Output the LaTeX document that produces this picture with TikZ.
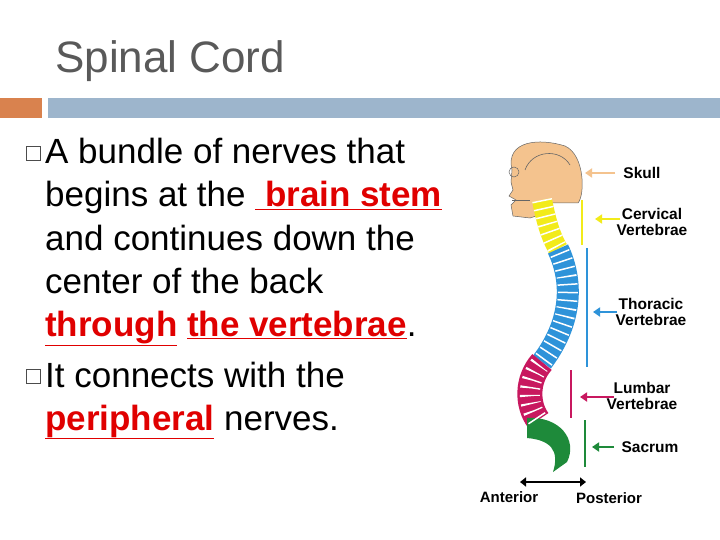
\documentclass[tikz,border=0pt]{standalone}
\usepackage{fontspec}
\setmainfont{Liberation Sans}
\usetikzlibrary{arrows.meta}
\definecolor{bartop}{HTML}{9DB5CC}
\definecolor{orng}{HTML}{D9824E}
\definecolor{redt}{HTML}{E00000}
\definecolor{skull}{HTML}{F4C38E}
\definecolor{yel}{HTML}{F2EB1A}
\definecolor{blu}{HTML}{2E93D9}
\definecolor{mag}{HTML}{C8185F}
\definecolor{grn}{HTML}{1E8A3A}
\newcommand{\rtx}[1]{\textcolor{redt}{\bfseries\underline{#1}}}
\begin{document}
\begin{tikzpicture}[x=1pt,y=-1pt,
  body/.style={anchor=base west,font=\fontsize{35}{40}\selectfont,inner sep=0pt},
  lab/.style={font=\fontsize{15.5}{16}\selectfont\bfseries,align=center,inner sep=0pt},
  bullet/.style={draw=black!70,line width=0.8pt,minimum size=14pt,inner sep=0pt},
  arr/.style={-{Triangle[length=7pt,width=9pt]},line width=2.5pt}]
\useasboundingbox (0,0) rectangle (720,540);
\fill[white] (0,0) rectangle (720,540);
\node[font=\fontsize{44}{48}\selectfont,text=black!65,anchor=base west,inner sep=0pt] (title) at (55,73) {Spinal Cord};
\fill[orng] (0,98) rectangle (42,118);
\fill[bartop] (48,98) rectangle (720,118);
\node[bullet] (b1) at (33,153) {};
\node[bullet] (b2) at (33,376) {};
\node[body] (l1) at (45,164) {A bundle of nerves that};
\node[body] (l2) at (45,207) {begins at the \rtx{ brain stem}};
\node[body] (l3) at (45,250) {and continues down the};
\node[body] (l4) at (45,293) {center of the back};
\node[body] (l5) at (45,336) {\rtx{through} \rtx{the vertebrae}.};
\node[body] (l6) at (45,387) {It connects with the};
\node[body] (l7) at (45,430) {\rtx{peripheral} nerves.};
% skull
\fill[skull,draw=black!60,line width=0.5pt] (512,170) .. controls (505,140) and (540,138) .. (565,146)
  .. controls (585,155) and (585,195) .. (578,203) -- (548,203) .. controls (545,212) and (540,215) .. (530,218)
  -- (513,216) -- (511,205) -- (516,200) -- (509,196) -- (513,190) -- (511,182) -- cycle;
\draw[black!60,line width=0.6pt] (525,170) .. controls (532,150) and (560,148) .. (570,165);
\draw[black!60,line width=0.5pt] (514,172) circle (5pt);
\draw[black!60,line width=0.5pt] (512,200) -- (530,200);
% spine
\draw[yel,line width=20pt] (542,200) .. controls (546,220) and (550,235) .. (558,249);
\draw[blu,line width=22pt] (558,249) .. controls (575,285) and (570,325) .. (542,362);
\draw[mag,line width=25pt] (542,362) .. controls (526,380) and (527,405) .. (538,420);
\fill[grn] (527,418) .. controls (560,416) and (578,440) .. (567,462) -- (553,472) .. controls (560,450) and (550,440) .. (527,438) -- cycle;
\draw[white,line width=20pt,dash pattern=on 1.5pt off 6.5pt] (542,200) .. controls (546,220) and (550,235) .. (558,249)
  .. controls (575,285) and (570,325) .. (542,362) .. controls (526,380) and (527,405) .. (538,420);
% bars
\draw[yel,line width=2.5pt] (582,200) -- (582,245);
\draw[blu,line width=2.5pt] (587,248) -- (587,367);
\draw[mag,line width=2.5pt] (571,370) -- (571,418);
\draw[grn,line width=2.5pt] (585,420) -- (585,467);
% labels
\node[lab] (sk) at (642,173) {Skull};
\node[lab] (ce) at (652,222) {Cervical\\Vertebrae};
\node[lab] (th) at (651,312) {Thoracic\\Vertebrae};
\node[lab] (lu) at (642,396) {Lumbar\\Vertebrae};
\node[lab] (sa) at (650,447) {Sacrum};
\coordinate (a1) at (585,173); \coordinate (a2) at (595,219);
\coordinate (a3) at (593,312); \coordinate (a4) at (580,397);
\coordinate (a5) at (592,447);
\draw[arr,skull] (615,173) -- (a1);
\draw[arr,yel] (620,219) -- (a2);
\draw[arr,blu] (617,312) -- (a3);
\draw[arr,mag] (614,397) -- (a4);
\draw[arr,grn] (614,447) -- (a5);
\node[lab,font=\fontsize{15}{16}\selectfont\bfseries] (an) at (509,497) {Anterior};
\node[lab,font=\fontsize{15}{16}\selectfont\bfseries] (po) at (609,498) {Posterior};
\coordinate (d1) at (520,482); \coordinate (d2) at (586,482);
\draw[{Triangle[length=6pt,width=9pt]}-{Triangle[length=6pt,width=9pt]},line width=2.5pt] (d1) -- (d2);
\end{tikzpicture}
\end{document}
